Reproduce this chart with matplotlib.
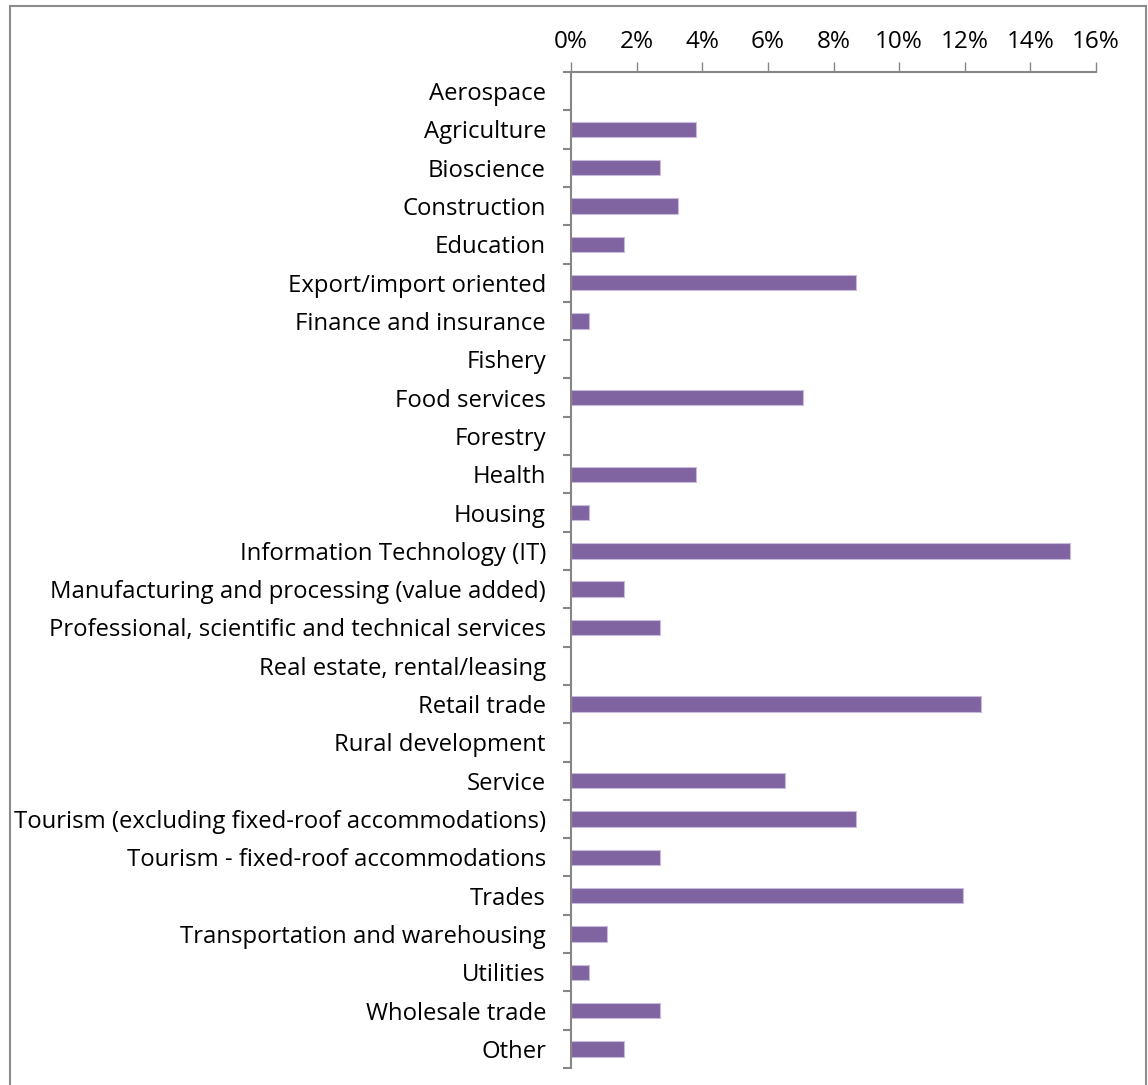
import numpy as np
import matplotlib.pyplot as plt
from matplotlib.patches import Rectangle
from matplotlib.ticker import FuncFormatter

plt.rcParams['font.family'] = ['Open Sans', 'DejaVu Sans']

sectors = ['Aerospace', 'Agriculture', 'Bioscience', 'Construction', 'Education',
           'Export/import oriented', 'Finance and insurance', 'Fishery', 'Food services',
           'Forestry', 'Health', 'Housing', 'Information Technology (IT)',
           'Manufacturing and processing (value added)',
           'Professional, scientific and technical services',
           'Real estate, rental/leasing', 'Retail trade', 'Rural development', 'Service',
           'Tourism (excluding fixed-roof accommodations)',
           'Tourism - fixed-roof accommodations', 'Trades',
           'Transportation and warehousing', 'Utilities', 'Wholesale trade', 'Other']
share = [0, 3.80, 2.72, 3.26, 1.63, 8.70, 0.54, 0, 7.07, 0, 3.80, 0.54, 15.22, 1.63,
         2.72, 0, 12.50, 0, 6.52, 8.70, 2.72, 11.96, 1.09, 0.54, 2.72, 1.63]

grey = '#868686'
fig = plt.figure(figsize=(11.48, 10.85), dpi=100)
ax = fig.add_axes([571 / 1148, 1 - 1068 / 1085, 525 / 1148, 996 / 1085])

y = np.arange(len(sectors))
ax.barh(y, share, height=0.4, color='#8064A2', edgecolor='#C9BBDB', linewidth=0.8)

ax.set_xlim(0, 16)
ax.set_ylim(len(sectors) - 0.5, -0.5)
ax.set_xticks(np.arange(0, 17, 2))
ax.xaxis.set_major_formatter(FuncFormatter(lambda v, p: f'{v:.0f}%'))
ax.xaxis.tick_top()
ax.tick_params(axis='x', length=7, width=1, color=grey, pad=6, labelsize=17.5)

ax.set_yticks(y)
ax.set_yticklabels(sectors)
ax.set_yticks(np.arange(-0.5, len(sectors)), minor=True)
ax.tick_params(axis='y', which='major', length=0, pad=18, labelsize=17.2)
ax.tick_params(axis='y', which='minor', length=6, width=1.5, color=grey)

for s in ['right', 'bottom']:
    ax.spines[s].set_visible(False)
for s in ['left', 'top']:
    ax.spines[s].set_color(grey)
    ax.spines[s].set_linewidth(1.5)

fig.patches.append(Rectangle((10 / 1148, -0.05), 1136 / 1148, 1.05 - 6 / 1085,
                             transform=fig.transFigure, fill=False,
                             edgecolor='#8c8c8c', linewidth=1.5))

fig.savefig('out.png', dpi=100)
